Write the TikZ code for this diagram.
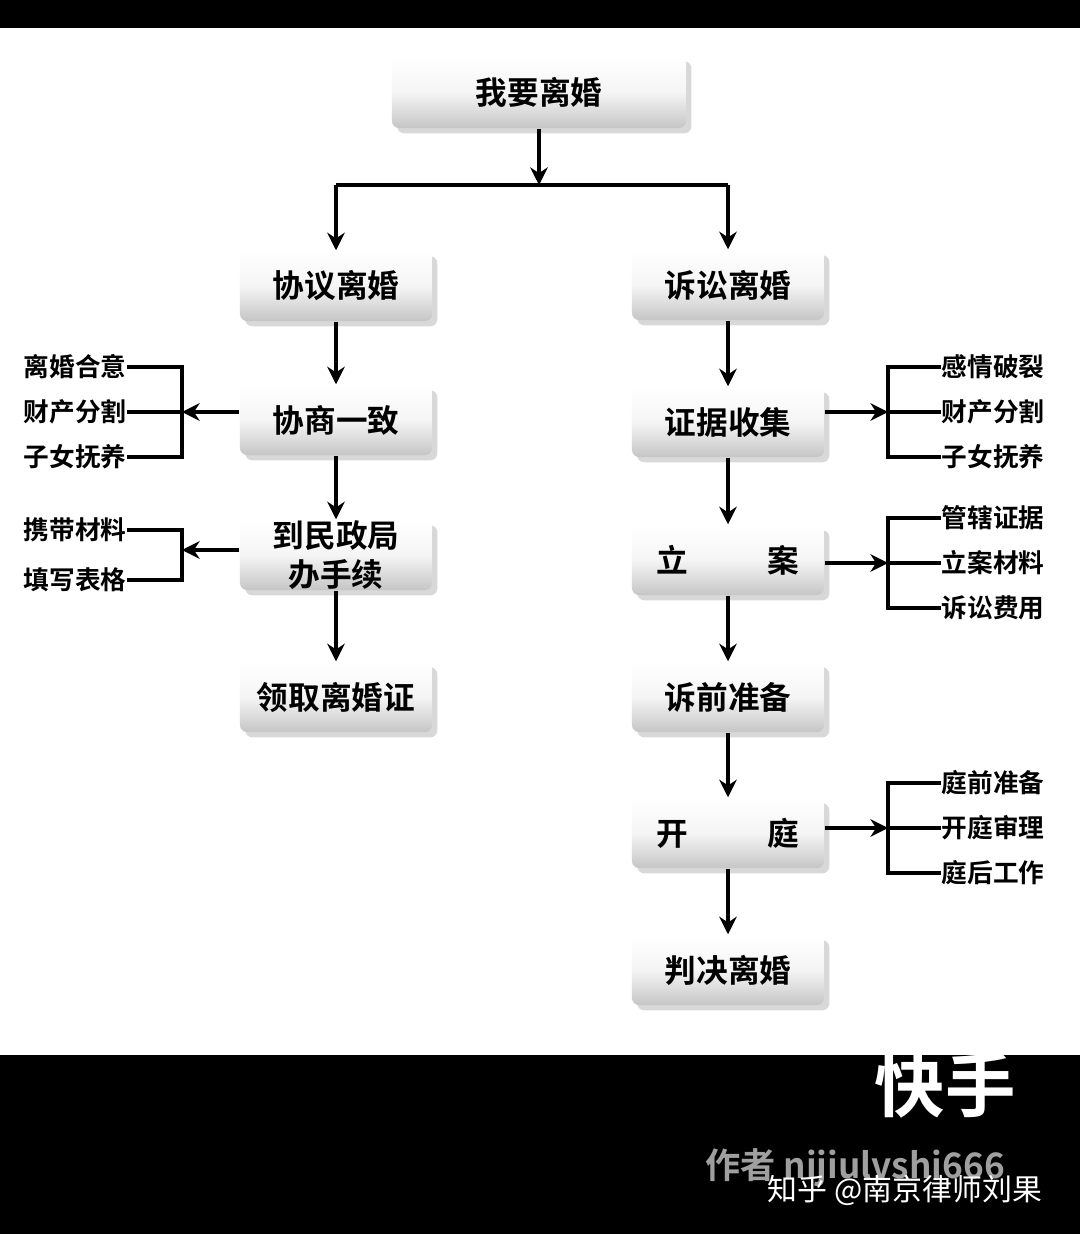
\documentclass[tikz,border=0pt]{standalone}
\usepackage{fontspec}
\setmainfont{Noto Sans CJK SC}
\newfontfamily\cjkb{Noto Sans CJK SC Bold}
\usetikzlibrary{shadows,arrows.meta}
\begin{document}
\begin{tikzpicture}[x=0.01cm,y=-0.01cm,
 box/.style={rectangle,rounded corners=2pt,top color=white,bottom color=gray!45,middle color=gray!8,
   drop shadow={shadow xshift=1.5pt,shadow yshift=-1.5pt,fill=gray!60},font=\cjkb\fontsize{9}{11}\selectfont,align=center,inner sep=0pt},
 lbl/.style={font=\cjkb\fontsize{7.3}{9}\selectfont,inner sep=0pt},
 arr/.style={-{Stealth[length=5pt,width=5pt]},line width=1.2pt},
 ln/.style={line width=1pt}]
\fill[white] (0,0) rectangle (1080,1234);
\fill[black] (0,0) rectangle (1080,28);
\fill[black] (0,1055) rectangle (1080,1234);
% boxes
\node[box,minimum width=294*0.2845pt,minimum height=72*0.2845pt] (top) at (539,92) {我要离婚};
\tikzset{lb/.style={box,minimum width=192*0.2845pt,minimum height=70*0.2845pt}}
\node[lb] (l1) at (336,286) {协议离婚};
\node[lb] (l2) at (336,420) {协商一致};
\node[lb] (l3) at (336,555) {到民政局\\办手续};
\node[lb] (l4) at (336,697) {领取离婚证};
\node[lb] (r1) at (728,285) {诉讼离婚};
\node[lb] (r2) at (728,422) {证据收集};
\node[lb] (r3) at (728,560) {立\hspace{2.5em}案};
\node[lb] (r4) at (728,697) {诉前准备};
\node[lb] (r5) at (728,833) {开\hspace{2.5em}庭};
\node[lb] (r6) at (728,970) {判决离婚};
% top branch
\coordinate (j) at (539,185);
\draw[arr] (top.south) -- (j);
\draw[ln] (336,185) -- (728,185);
\draw[arr] (336,185) -- (l1.north);
\draw[arr] (728,185) -- (r1.north);
\foreach \a/\b in {l1/l2,l2/l3,l3/l4,r1/r2,r2/r3,r3/r4,r4/r5,r5/r6}
  \draw[arr] (\a) -- (\b);
% left brackets
\node[lbl] (a1) at (75,367) {离婚合意};
\node[lbl] (a2) at (75,412) {财产分割};
\node[lbl] (a3) at (75,457) {子女抚养};
\coordinate (ba) at (182,412);
\draw[ln] (a1.east) -- (182,367) -- (182,457) -- (a3.east);
\draw[ln] (a2.east) -- (ba);
\draw[arr] (l2.west|-ba) -- (ba);
\node[lbl] (b1) at (75,530) {携带材料};
\node[lbl] (b2) at (75,580) {填写表格};
\coordinate (bb) at (182,550);
\draw[ln] (b1.east) -- (182,530) -- (182,580) -- (b2.east);
\draw[arr] (l3.west|-bb) -- (bb);
% right brackets
\foreach \n/\y/\t/\u/\v/\s in {c/412/感情破裂/财产分割/子女抚养/r2, d/563/管辖证据/立案材料/诉讼费用/r3, e/828/庭前准备/开庭审理/庭后工作/r5}{
  \node[lbl] (\n1) at (993,\y-45) {\t};
  \node[lbl] (\n2) at (993,\y) {\u};
  \node[lbl] (\n3) at (993,\y+45) {\v};
  \coordinate (\n0) at (888,\y);
  \draw[ln] (\n1.west) -- (888,\y-45) -- (888,\y+45) -- (\n3.west);
  \draw[ln] (\n2.west) -- (\n0);
  \draw[arr] (\s.east|-\n0) -- (\n0);
}
% watermark
\node[text=white,font=\cjkb\fontsize{20}{22}\selectfont] (ks) at (945,1085) {快手};
\node[text=gray!75,font=\cjkb\fontsize{10}{12}\selectfont] (au) at (855,1168) {作者 nijiulvshi666};
\node[text=white,font=\fontsize{8.5}{10}\selectfont] (zh) at (905,1190) {知乎 @南京律师刘果};
\end{tikzpicture}
\end{document}
